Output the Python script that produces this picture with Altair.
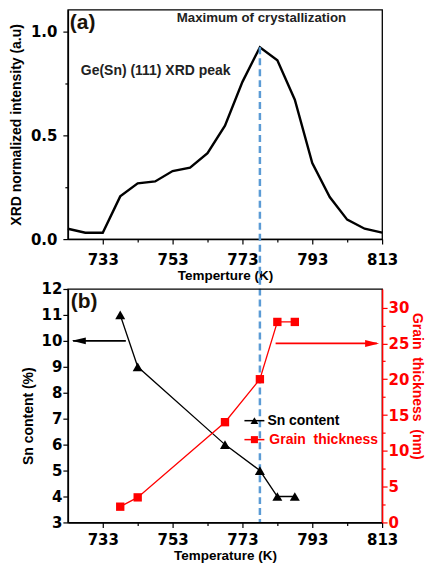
import altair as alt
import pandas as pd

# ---------------- data ----------------
xrd_temp = [723, 728, 733, 738, 743, 748, 753, 758, 763, 768, 773, 778, 783, 788, 793, 798, 803, 808, 813]
xrd_int = [0.05, 0.031, 0.031, 0.206, 0.269, 0.278, 0.328, 0.344, 0.414, 0.547, 0.758, 0.925,
           0.862, 0.672, 0.367, 0.203, 0.094, 0.05, 0.031]

b_temp = [738, 743, 768, 778, 783, 788]
sn_content = [11, 9, 6, 5, 4, 4]
grain_thickness = [2.2, 3.5, 14, 20, 28, 28]

x_ticks = [733, 743, 753, 763, 773, 783, 793, 803, 813]
xrd_ticks = [0, 0.25, 0.5, 0.75, 1.0]
sn_ticks = [3, 3.5, 4, 4.5, 5, 5.5, 6, 6.5, 7, 7.5, 8, 8.5, 9, 9.5, 10, 10.5, 11, 11.5, 12]
grain_ticks = [0, 2.5, 5, 7.5, 10, 12.5, 15, 17.5, 20, 22.5, 25, 27.5, 30]

peak_temp = [778]
peak_int = [0.925]

sn_arrow_t = [739.6, 724.5]
sn_arrow_v = [10, 10]
grain_arrow_t = [782.5, 811.5]
grain_arrow_v = [25, 25]

texts_a = ["(a)", "Maximum of crystallization", "Ge(Sn) (111) XRD peak"]
legend_labels = ["Sn content", "Grain\u00a0 thickness"]

# ---------------- layout ----------------
W = 315
H1 = 230
H2 = 234
SP = 50
BLUE = "#5b9bd5"
RED = "#ff0000"
TICKFONT = "DejaVu Sans"
TXTFONT = "Liberation Sans"

xscale = alt.Scale(domain=[723, 813], nice=False, zero=False)


def x_axis(title, lpad, tpad):
    return alt.Axis(
        title=title, values=x_ticks, format="d",
        labelExpr="(datum.value - 733) % 20 === 0 ? datum.label : ''",
        tickSize={"condition": {"test": "(datum.value - 733) % 20 === 0", "value": 5}, "value": 3},
        labelFont=TICKFONT, labelFontWeight="bold", labelFontSize=15, labelColor="black",
        titleFont=TXTFONT, titleFontWeight="bold", titleFontSize=13.5, titleColor="black",
        domainColor="black", domainWidth=1.5, tickColor="black", tickWidth=1.2,
        labelPadding=lpad, titlePadding=tpad, grid=False, labelOverlap=False, labelFlush=False)


# ---------------- panel (a) ----------------
df_a = pd.DataFrame({"T": xrd_temp, "I": xrd_int})
y_axis_a = alt.Axis(
    title="XRD normalized intensity (a.u)", values=xrd_ticks, format=".1f",
    labelExpr="datum.value % 0.5 === 0 ? datum.label : ''",
    tickSize={"condition": {"test": "datum.value % 0.5 === 0", "value": 5}, "value": 3},
    labelFont=TICKFONT, labelFontWeight="bold", labelFontSize=15, labelColor="black",
    titleFont=TXTFONT, titleFontWeight="bold", titleFontSize=14, titleColor="black",
    domainColor="black", domainWidth=1.5, tickColor="black", tickWidth=1.2,
    labelPadding=6, titlePadding=7, grid=False, labelOverlap=False, labelFlush=False)

ax = alt.X("T:Q", scale=xscale, axis=x_axis("Temperture (K)", 8, 1))
ay = alt.Y("I:Q", scale=alt.Scale(domain=[0, 1.106], nice=False), axis=y_axis_a)

line_a = alt.Chart(df_a).mark_line(color="black", strokeWidth=2.4).encode(x=ax, y=ay)

df_peak = pd.DataFrame({"T": peak_temp, "I": peak_int})
rule_peak = alt.Chart(df_peak).mark_rule(color=BLUE, strokeWidth=2.5, strokeDash=[7, 4]).encode(
    x=ax, y=ay, y2=alt.value(H1 + SP + H2)
)

df_ta = pd.DataFrame({"t": texts_a})
txt_a_label = alt.Chart(df_ta).transform_filter("datum.t == '(a)'").mark_text(
    font=TXTFONT, fontWeight="bold", fontSize=21, color="#1a1208", align="left", baseline="middle"
).encode(x=alt.value(2), y=alt.value(13), text="t:N")
txt_a_max = alt.Chart(df_ta).transform_filter("datum.t == 'Maximum of crystallization'").mark_text(
    font=TXTFONT, fontWeight="bold", fontSize=13.3, color="#222222", align="center", baseline="middle"
).encode(x=alt.value(194), y=alt.value(8), text="t:N")
txt_a_ge = alt.Chart(df_ta).transform_filter("datum.t == 'Ge(Sn) (111) XRD peak'").mark_text(
    font=TXTFONT, fontWeight="bold", fontSize=14, color="#222222", align="left", baseline="middle"
).encode(x=alt.value(13), y=alt.value(61), text="t:N")

panel_a = alt.layer(line_a, rule_peak, txt_a_label, txt_a_max, txt_a_ge).properties(width=W, height=H1)

# ---------------- panel (b) ----------------
df_b = pd.DataFrame({"T": b_temp, "Sn": sn_content, "G": grain_thickness})

y_axis_sn = alt.Axis(
    title="Sn content (%)", values=sn_ticks, format="d",
    labelExpr="datum.value % 1 === 0 ? datum.label : ''",
    tickSize={"condition": {"test": "datum.value % 1 === 0", "value": 5}, "value": 3},
    labelFont=TICKFONT, labelFontWeight="bold", labelFontSize=15, labelColor="black",
    titleFont=TXTFONT, titleFontWeight="bold", titleFontSize=14, titleColor="black",
    domainColor="black", domainWidth=1.5, tickColor="black", tickWidth=1.2,
    labelPadding=1, titlePadding=6, titleY=127, grid=False, labelOverlap=False, labelFlush=False)

y_axis_g = alt.Axis(
    title="Grain\u00a0 thickness\u00a0 (nm)", orient="right", values=grain_ticks, format="d",
    labelExpr="datum.value % 5 === 0 ? datum.label : ''",
    tickSize={"condition": {"test": "datum.value % 5 === 0", "value": 5}, "value": 3},
    labelFont=TICKFONT, labelFontWeight="bold", labelFontSize=15, labelColor=RED,
    titleFont=TXTFONT, titleFontWeight="bold", titleFontSize=14, titleColor=RED,
    domainColor=RED, domainWidth=1.5, tickColor=RED, tickWidth=1.2,
    labelPadding=1, titlePadding=1, titleY=97, grid=False, labelOverlap=False, labelFlush=False)

sn_scale = alt.Scale(domain=[3, 12], nice=False, zero=False)
g_scale = alt.Scale(domain=[0, 32.6], nice=False)

bx = alt.X("T:Q", scale=xscale, axis=x_axis("Temperature (K)", 5, 1))
by_sn = alt.Y("Sn:Q", scale=sn_scale, axis=y_axis_sn)
by_g = alt.Y("G:Q", scale=g_scale, axis=y_axis_g)

sn_line = alt.Chart(df_b).mark_line(color="black", strokeWidth=1.3).encode(x=bx, y=by_sn)
sn_pts = alt.Chart(df_b).mark_point(shape="triangle-up", filled=True, color="black", size=100, opacity=1).encode(
    x=bx, y=by_sn)

df_sn_arrow = pd.DataFrame({"T": sn_arrow_t, "Sn": sn_arrow_v})
sn_arrow_line = alt.Chart(df_sn_arrow).mark_line(color="black", strokeWidth=1.8).encode(x=bx, y=by_sn)
sn_arrow_head = alt.Chart(df_sn_arrow).transform_filter("datum.T < 730").mark_point(
    shape="M-1,0 L1,-0.5 L1,0.5 Z", filled=True, color="black", size=196, opacity=1
).encode(x=alt.value(11), y=by_sn)

df_leg = pd.DataFrame({"lab": legend_labels})
leg_sn_rule = alt.Chart(df_leg).transform_filter("datum.lab == 'Sn content'").mark_rule(
    color="black", strokeWidth=1.5).encode(x=alt.value(177), x2=alt.value(197), y=alt.value(132))
leg_sn_sym = alt.Chart(df_leg).transform_filter("datum.lab == 'Sn content'").mark_point(
    shape="triangle-up", filled=True, color="black", size=60, opacity=1).encode(
    x=alt.value(187), y=alt.value(132))
leg_sn_txt = alt.Chart(df_leg).transform_filter("datum.lab == 'Sn content'").mark_text(
    font=TXTFONT, fontWeight="bold", fontSize=14, color="black", align="left", baseline="middle").encode(
    x=alt.value(200), y=alt.value(132), text="lab:N")

txt_b = alt.Chart(pd.DataFrame({"t": ["(b)"]})).mark_text(
    font=TXTFONT, fontWeight="bold", fontSize=21, color="#1a1208", align="left", baseline="middle"
).encode(x=alt.value(3), y=alt.value(13), text="t:N")

sn_layer = alt.layer(sn_line, sn_pts, sn_arrow_line, sn_arrow_head, leg_sn_rule, leg_sn_sym, leg_sn_txt, txt_b)

g_line = alt.Chart(df_b).mark_line(color=RED, strokeWidth=1.3).encode(x=bx, y=by_g)
g_pts = alt.Chart(df_b).mark_point(shape="square", filled=True, color=RED, size=70, opacity=1).encode(
    x=bx, y=by_g)
df_g_arrow = pd.DataFrame({"T": grain_arrow_t, "G": grain_arrow_v})
g_arrow_line = alt.Chart(df_g_arrow).mark_line(color=RED, strokeWidth=1.8).encode(x=bx, y=by_g)
g_arrow_head = alt.Chart(df_g_arrow).transform_filter("datum.T > 800").mark_point(
    shape="M1,0 L-1,-0.5 L-1,0.5 Z", filled=True, color=RED, size=196, opacity=1
).encode(x=alt.value(W - 10), y=by_g)

leg_g_rule = alt.Chart(df_leg).transform_filter("datum.lab != 'Sn content'").mark_rule(
    color=RED, strokeWidth=1.5).encode(x=alt.value(177), x2=alt.value(197), y=alt.value(151))
leg_g_sym = alt.Chart(df_leg).transform_filter("datum.lab != 'Sn content'").mark_point(
    shape="square", filled=True, color=RED, size=50, opacity=1).encode(
    x=alt.value(187), y=alt.value(151))
leg_g_txt = alt.Chart(df_leg).transform_filter("datum.lab != 'Sn content'").mark_text(
    font=TXTFONT, fontWeight="bold", fontSize=14, color=RED, align="left", baseline="middle").encode(
    x=alt.value(202), y=alt.value(151), text="lab:N")

g_layer = alt.layer(g_line, g_pts, g_arrow_line, g_arrow_head, leg_g_rule, leg_g_sym, leg_g_txt)

panel_b = alt.layer(sn_layer, g_layer).resolve_scale(y="independent").properties(width=W, height=H2)

chart = alt.vconcat(panel_a, panel_b, spacing=SP, bounds="flush").configure_view(
    stroke="black", strokeWidth=1.3
).properties(
    padding={"left": 0, "top": 0, "right": 0, "bottom": 0}, background="white"
)

chart.save("out.html", embed_options={"renderer": "svg", "actions": False})
